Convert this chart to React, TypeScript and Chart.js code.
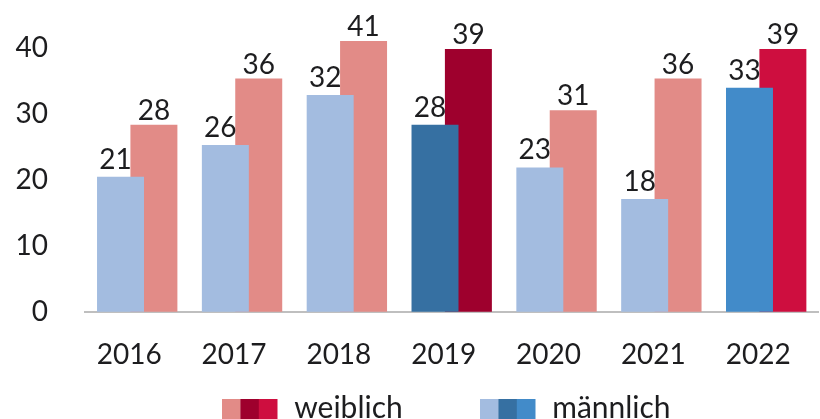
import React, { useEffect, useRef } from "react";
import { Chart, registerables } from "chart.js";

Chart.register(...registerables);

const years = ["2016", "2017", "2018", "2019", "2020", "2021", "2022"];
const maleValues = [20.5, 25.3, 32.9, 28.4, 21.9, 17.1, 34.0];
const femaleValues = [28.4, 35.4, 41.1, 39.9, 30.6, 35.4, 39.9];
const maleLabels = ["21", "26", "32", "28", "23", "18", "33"];
const femaleLabels = ["28", "36", "41", "39", "31", "36", "39"];
const shade = [0, 0, 0, 1, 0, 0, 2];
const malePalette = ["#A3BCE0", "#3670A2", "#428BC9"];
const femalePalette = ["#E28B87", "#9E002D", "#CE0E3F"];
const legendNames = ["weiblich", "männlich"];

const FONT = "Lato, 'Open Sans', sans-serif";
const TEXT = "#1d1d1f";

const labelPlugin = {
  id: "barLabels",
  afterDatasetsDraw(chart: any) {
    const ctx = chart.ctx;
    ctx.save();
    ctx.font = `28px ${FONT}`;
    ctx.fillStyle = TEXT;
    ctx.textAlign = "center";
    ctx.textBaseline = "alphabetic";
    chart.data.datasets.forEach((ds: any, di: number) => {
      const meta = chart.getDatasetMeta(di);
      const texts = di === 0 ? maleLabels : femaleLabels;
      const dx = di === 0 ? -5 : 0;
      const gap = di === 0 ? 8 : 5;
      meta.data.forEach((el: any, i: number) => {
        ctx.fillText(texts[i], el.x + dx, el.y - gap);
      });
    });
    ctx.restore();
  },
};

const legendPlugin = {
  id: "multiLegend",
  afterDraw(chart: any) {
    const ctx = chart.ctx;
    ctx.save();
    const entries = [
      { x: 222, palette: femalePalette, name: legendNames[0] },
      { x: 480, palette: malePalette, name: legendNames[1] },
    ];
    const box = 18.4;
    const top = 399;
    ctx.font = `30px ${FONT}`;
    ctx.textBaseline = "alphabetic";
    ctx.textAlign = "left";
    entries.forEach((e) => {
      e.palette.forEach((c, k) => {
        ctx.fillStyle = c;
        ctx.fillRect(e.x + k * box, top, box + 0.3, 20);
      });
      ctx.fillStyle = TEXT;
      ctx.fillText(e.name, e.x + 3 * box + 17, 417.5);
    });
    ctx.restore();
  },
};

export default function App() {
  const ref = useRef<HTMLCanvasElement | null>(null);
  useEffect(() => {
    if (!ref.current) return;
    const chart = new Chart(ref.current, {
      type: "bar",
      data: {
        labels: years,
        datasets: [
          {
            label: legendNames[1],
            data: maleValues,
            backgroundColor: shade.map((s) => malePalette[s]),
            borderWidth: 0,
            clip: false as any,
          },
          {
            label: legendNames[0],
            data: femaleValues,
            backgroundColor: shade.map((s) => femalePalette[s]),
            borderWidth: 0,
            clip: false as any,
          },
        ],
      },
      options: {
        responsive: false,
        animation: false,
        devicePixelRatio: 1,
        datasets: {
          bar: { categoryPercentage: 0.637, barPercentage: 1.407 },
        },
        layout: { padding: { top: 48.3, right: 1.4, left: 0, bottom: 0 } },
        plugins: {
          legend: { display: false },
          tooltip: { enabled: false },
          title: { display: false },
        },
        scales: {
          x: {
            grid: { display: false, drawTicks: false },
            border: { display: true, color: "#BFBFBF", width: 2 },
            ticks: {
              font: { family: FONT, size: 28 },
              color: TEXT,
              padding: 26,
              labelOffset: -8,
              maxRotation: 0,
              autoSkip: false,
            },
            afterFit: (s: any) => {
              s.height = 107.3;
              s.paddingLeft = 0;
              s.paddingRight = 0;
            },
          },
          y: {
            min: 0,
            max: 40,
            grid: { display: false, drawTicks: false },
            border: { display: false },
            ticks: {
              stepSize: 10,
              font: { family: FONT, size: 28 },
              color: TEXT,
              padding: 36.8,
            },
            afterFit: (s: any) => {
              s.width = 84.8;
              s.paddingTop = 0;
              s.paddingBottom = 0;
            },
          },
        },
      },
      plugins: [labelPlugin, legendPlugin],
    });
    return () => chart.destroy();
  }, []);
  return (
    <div style={{ position: "fixed", left: 0, top: 0, width: 820, height: 419, background: "#fff" }}>
      <canvas ref={ref} width={820} height={419} style={{ display: "block" }} />
    </div>
  );
}
